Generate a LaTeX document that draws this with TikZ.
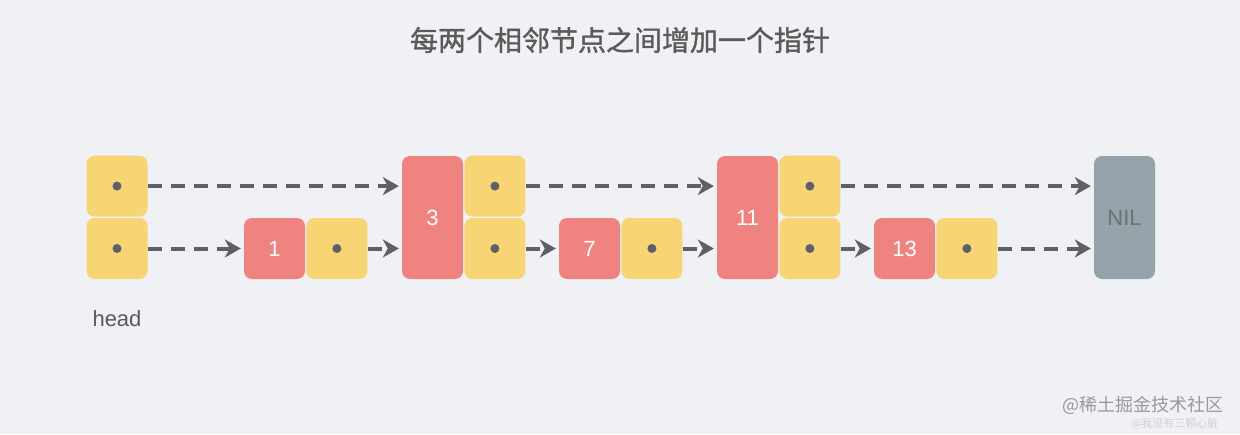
\documentclass[tikz,border=0pt]{standalone}
\usepackage{fontspec}
\setmainfont{Liberation Sans}
\newfontfamily\cjkfont{Noto Sans CJK SC}
\newfontfamily\cjktitle{Noto Sans CJK SC}[FakeBold=1.2]
\usetikzlibrary{positioning,arrows.meta}
\usepackage{xcolor}
\definecolor{keyred}{HTML}{EF837F}
\definecolor{ptryellow}{HTML}{F7D474}
\definecolor{nilgray}{HTML}{95A4AA}
\definecolor{linegray}{HTML}{5E5F67}
\definecolor{bgcolor}{HTML}{F0F1F5}
\definecolor{titlegray}{HTML}{5A5A5A}

\begin{document}
\begin{tikzpicture}[
  x=1pt, y=-1pt,
  node distance=1pt,
  keybox/.style={fill=keyred, rounded corners=8pt, inner sep=0pt,
                 minimum width=61pt, minimum height=61pt,
                 text=white, font=\fontsize{22}{26}\selectfont},
  tallkey/.style={keybox, minimum height=123pt},
  ptrbox/.style={fill=ptryellow, rounded corners=8pt, inner sep=0pt,
                 minimum width=61pt, minimum height=61pt},
  nilbox/.style={fill=nilgray, rounded corners=8pt, inner sep=0pt,
                 minimum width=61pt, minimum height=123pt,
                 text=linegray!90, font=\fontsize{22}{26}\selectfont},
  arr/.style={-{Stealth[length=16pt, width=18pt, inset=5pt]},
              line width=4pt, color=linegray,
              dash pattern=on 14pt off 9pt, shorten >=3pt}
]
  \fill[bgcolor] (0,0) rectangle (1240,434);

  % Title
  \node[text=titlegray, font=\cjktitle\fontsize{28}{32}\selectfont] (title) at (620,40)
    {每两个相邻节点之间增加一个指针};

  % Head
  \node[ptrbox] (h1) at (117,248.5) {};
  \node[ptrbox, above=of h1] (h2) {};
  \node[text=titlegray, font=\fontsize{22}{26}\selectfont] (headlbl) at (117,319) {head};

  % Nodes
  \node[keybox] (k1) at (274.5,248.5) {1};
  \node[ptrbox, right=of k1] (p1) {};

  \node[tallkey] (k3) at (432.5,217.5) {3};
  \node[ptrbox, anchor=south west] (p3a) at ([xshift=1pt]k3.south east) {};
  \node[ptrbox, above=of p3a] (p3b) {};

  \node[keybox] (k7) at (589.5,248.5) {7};
  \node[ptrbox, right=of k7] (p7) {};

  \node[tallkey] (k11) at (747.5,217.5) {11};
  \node[ptrbox, anchor=south west] (p11a) at ([xshift=1pt]k11.south east) {};
  \node[ptrbox, above=of p11a] (p11b) {};

  \node[keybox] (k13) at (904.5,248.5) {13};
  \node[ptrbox, right=of k13] (p13) {};

  \node[nilbox] (nil) at (1124.5,217.5) {NIL};

  % Pointer dots
  \foreach \p in {h1,h2,p1,p3a,p3b,p7,p11a,p11b,p13}
    \fill[linegray] (\p) circle (4.5pt);

  % Level 1 links
  \draw[arr] (h1.east) -- (k1.west);
  \draw[arr] (p1.east) -- (p1 -| k3.west);
  \draw[arr] (p3a.east) -- (k7.west);
  \draw[arr] (p7.east) -- (p7 -| k11.west);
  \draw[arr] (p11a.east) -- (k13.west);
  \draw[arr] (p13.east) -- (p13 -| nil.west);

  % Level 2 links
  \draw[arr] (h2.east) -- (h2 -| k3.west);
  \draw[arr] (p3b.east) -- (p3b -| k11.west);
  \draw[arr] (p11b.east) -- (p11b -| nil.west);

  % Watermark
  \node[anchor=east, text=black!40, font=\cjkfont\fontsize{18}{20}\selectfont] (wm1) at (1227,405)
    {@稀土掘金技术社区};
  \node[anchor=east, text=black!18, font=\cjkfont\fontsize{11}{13}\selectfont] (wm2) at (1222,424)
    {@我没有三颗心脏};
\end{tikzpicture}
\end{document}
